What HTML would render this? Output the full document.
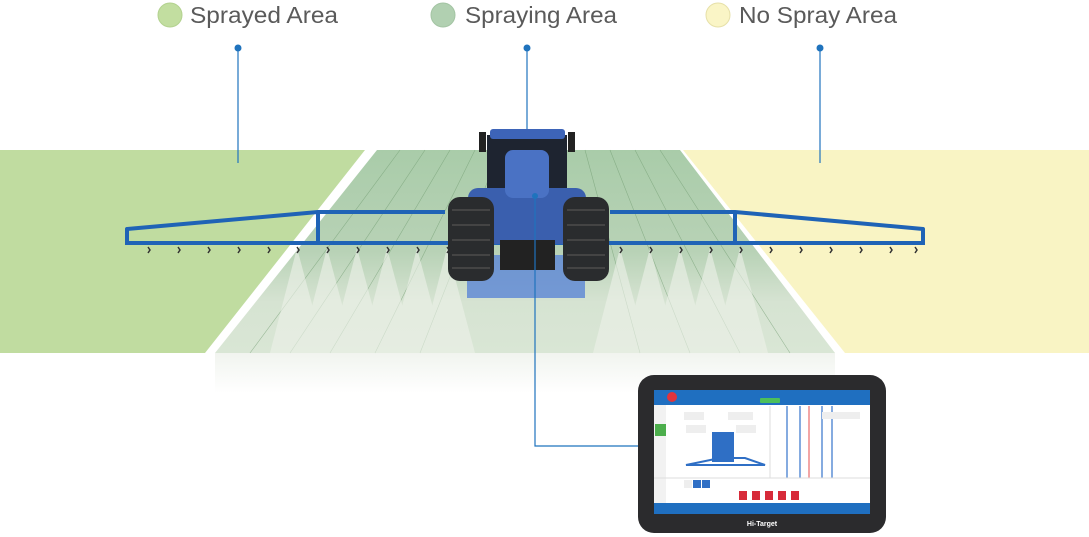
<!DOCTYPE html>
<html><head><meta charset="utf-8"><style>
html,body{margin:0;padding:0;background:#fff;width:1089px;height:537px;overflow:hidden}
svg{display:block}
text{font-family:"Liberation Sans",Arial,sans-serif}
</style></head><body>
<svg width="1089" height="537" viewBox="0 0 1089 537" xmlns="http://www.w3.org/2000/svg">
<defs>
<linearGradient id="mist" x1="0" y1="0" x2="0" y2="1">
<stop offset="0" stop-color="#a9cca9"/><stop offset="0.5" stop-color="#b8d2b6"/><stop offset="0.75" stop-color="#d6e3d2"/><stop offset="1" stop-color="#d9e6d5"/>
</linearGradient>
<linearGradient id="fade" x1="0" y1="0" x2="0" y2="1">
<stop offset="0" stop-color="#f1f4ef"/><stop offset="1" stop-color="#fff"/>
</linearGradient>
</defs>
<circle cx="170" cy="15" r="12" fill="#c2dea0" stroke="#b3d28f"/>
<text x="190" y="23" font-size="23" fill="#5a5a5a" textLength="148" lengthAdjust="spacingAndGlyphs">Sprayed Area</text>
<circle cx="443" cy="15" r="12" fill="#b1d0b1" stroke="#a3c4a3"/>
<text x="465" y="23" font-size="23" fill="#5a5a5a" textLength="152" lengthAdjust="spacingAndGlyphs">Spraying Area</text>
<circle cx="718" cy="15" r="12" fill="#faf5c6" stroke="#e6e0a8"/>
<text x="739" y="23" font-size="23" fill="#5a5a5a" textLength="158" lengthAdjust="spacingAndGlyphs">No Spray Area</text>
<polygon points="0,150 365,150 205,353 0,353" fill="#c0dca0"/>
<polygon points="683,150 1089,150 1089,353 845,353" fill="#f9f4c4"/>
<polygon points="377,150 680,150 835,353 215,353" fill="url(#mist)"/>
<rect x="215" y="353" width="620" height="40" fill="url(#fade)"/>
<g stroke="#6f9a6f" stroke-width="0.6" opacity="0.6">
<line x1="400" y1="150" x2="250" y2="353"/><line x1="425" y1="150" x2="290" y2="353"/><line x1="450" y1="150" x2="330" y2="353"/><line x1="475" y1="150" x2="375" y2="353"/><line x1="500" y1="150" x2="420" y2="353"/><line x1="585" y1="150" x2="640" y2="353"/><line x1="610" y1="150" x2="690" y2="353"/><line x1="635" y1="150" x2="740" y2="353"/><line x1="660" y1="150" x2="790" y2="353"/>
</g>
<g fill="#eef2ea" opacity="0.6">
<polygon points="297,248 270,353 325,353"/><polygon points="327,248 300,353 355,353"/><polygon points="357,248 330,353 385,353"/><polygon points="387,248 360,353 415,353"/><polygon points="417,248 390,353 445,353"/><polygon points="447,248 420,353 475,353"/>
<polygon points="620,248 593,353 648,353"/><polygon points="650,248 623,353 678,353"/><polygon points="680,248 653,353 708,353"/><polygon points="710,248 683,353 738,353"/><polygon points="740,248 713,353 768,353"/>
</g>
<g stroke="#1f73bd" stroke-width="1.2" fill="none">
<line x1="238" y1="48" x2="238" y2="163"/><line x1="527" y1="48" x2="527" y2="135"/><line x1="820" y1="48" x2="820" y2="163"/>
</g>
<g fill="#1f73bd"><circle cx="238" cy="48" r="3.5"/><circle cx="527" cy="48" r="3.5"/><circle cx="820" cy="48" r="3.5"/></g>
<g stroke="#1f63b6" stroke-width="4" fill="none" stroke-linejoin="round">
<polyline points="127,243 127,229 318,212 445,212"/>
<polyline points="610,212 735,212 923,229 923,243"/>
<line x1="318" y1="212" x2="318" y2="243"/><line x1="735" y1="212" x2="735" y2="243"/>
<line x1="125" y1="243" x2="925" y2="243"/>
</g>
<g stroke="#333" stroke-width="1.5" fill="none">
<path d="M148,247 l2,3 -2,3"/><path d="M178,247 l2,3 -2,3"/><path d="M208,247 l2,3 -2,3"/><path d="M238,247 l2,3 -2,3"/><path d="M268,247 l2,3 -2,3"/><path d="M297,247 l2,3 -2,3"/><path d="M327,247 l2,3 -2,3"/><path d="M357,247 l2,3 -2,3"/><path d="M387,247 l2,3 -2,3"/><path d="M417,247 l2,3 -2,3"/><path d="M447,247 l2,3 -2,3"/>
<path d="M620,247 l2,3 -2,3"/><path d="M650,247 l2,3 -2,3"/><path d="M680,247 l2,3 -2,3"/><path d="M710,247 l2,3 -2,3"/><path d="M740,247 l2,3 -2,3"/><path d="M770,247 l2,3 -2,3"/><path d="M800,247 l2,3 -2,3"/><path d="M830,247 l2,3 -2,3"/><path d="M860,247 l2,3 -2,3"/><path d="M890,247 l2,3 -2,3"/><path d="M915,247 l2,3 -2,3"/>
</g>
<rect x="467" y="255" width="118" height="43" fill="#5b86d6" opacity="0.8"/>
<rect x="487" y="135" width="80" height="70" fill="#1e2430"/>
<rect x="490" y="129" width="75" height="10" rx="3" fill="#3d64b8"/>
<rect x="479" y="132" width="7" height="20" fill="#222"/><rect x="568" y="132" width="7" height="20" fill="#222"/>
<rect x="468" y="188" width="118" height="56" rx="10" fill="#3a5fae"/>
<rect x="505" y="150" width="44" height="48" rx="8" fill="#4a72c4"/>
<rect x="500" y="240" width="55" height="30" fill="#222"/>
<rect x="448" y="197" width="46" height="84" rx="12" fill="#2a2c2e"/>
<rect x="563" y="197" width="46" height="84" rx="12" fill="#2a2c2e"/>
<g stroke="#444" stroke-width="2"><line x1="452" y1="210" x2="490" y2="210"/><line x1="452" y1="225" x2="490" y2="225"/><line x1="452" y1="240" x2="490" y2="240"/><line x1="452" y1="255" x2="490" y2="255"/><line x1="452" y1="268" x2="490" y2="268"/><line x1="567" y1="210" x2="605" y2="210"/><line x1="567" y1="225" x2="605" y2="225"/><line x1="567" y1="240" x2="605" y2="240"/><line x1="567" y1="255" x2="605" y2="255"/><line x1="567" y1="268" x2="605" y2="268"/></g>
<circle cx="535" cy="196" r="3" fill="#1f73bd"/>
<polyline points="535,196 535,446 640,446" stroke="#1f73bd" stroke-width="1.2" fill="none"/>
<rect x="638" y="375" width="248" height="158" rx="16" fill="#2b2b2d"/>
<rect x="654" y="390" width="216" height="124" fill="#fff"/>
<rect x="654" y="390" width="216" height="15" fill="#1f6fc0"/>
<rect x="760" y="398" width="20" height="5" rx="1" fill="#4cbf5a"/>
<circle cx="672" cy="397" r="5" fill="#e0343c"/>
<rect x="654" y="405" width="12" height="98" fill="#f2f2f2"/>
<rect x="655" y="424" width="11" height="12" fill="#4cae4c"/>
<rect x="654" y="503" width="216" height="11" fill="#1f6fc0"/>
<rect x="684" y="412" width="20" height="8" fill="#eee"/><rect x="728" y="412" width="25" height="8" fill="#eee"/>
<rect x="686" y="425" width="20" height="8" fill="#eee"/><rect x="736" y="425" width="20" height="8" fill="#eee"/>
<rect x="712" y="432" width="22" height="30" fill="#2f6fc5"/>
<polygon points="686,465 720,458 745,458 765,465" fill="none" stroke="#2f6fc5" stroke-width="2"/>
<line x1="770" y1="406" x2="770" y2="478" stroke="#ddd"/>
<g stroke="#5c8fd6" stroke-width="1.5"><line x1="787" y1="406" x2="787" y2="478"/><line x1="800" y1="406" x2="800" y2="478"/><line x1="822" y1="406" x2="822" y2="478"/><line x1="832" y1="406" x2="832" y2="478"/></g>
<line x1="809" y1="406" x2="809" y2="478" stroke="#e88" stroke-width="1.5"/>
<rect x="822" y="412" width="38" height="7" fill="#eee"/>
<line x1="654" y1="478" x2="870" y2="478" stroke="#ddd"/>
<rect x="684" y="480" width="8" height="8" fill="#eee"/><rect x="693" y="480" width="8" height="8" fill="#2f6fc5"/><rect x="702" y="480" width="8" height="8" fill="#2f6fc5"/>
<g fill="#d72b3a"><rect x="739" y="491" width="8" height="9"/><rect x="752" y="491" width="8" height="9"/><rect x="765" y="491" width="8" height="9"/><rect x="778" y="491" width="8" height="9"/><rect x="791" y="491" width="8" height="9"/></g>
<text x="762" y="526" font-size="7" fill="#fff" text-anchor="middle" font-weight="bold">Hi-Target</text>
</svg>
</body></html>
